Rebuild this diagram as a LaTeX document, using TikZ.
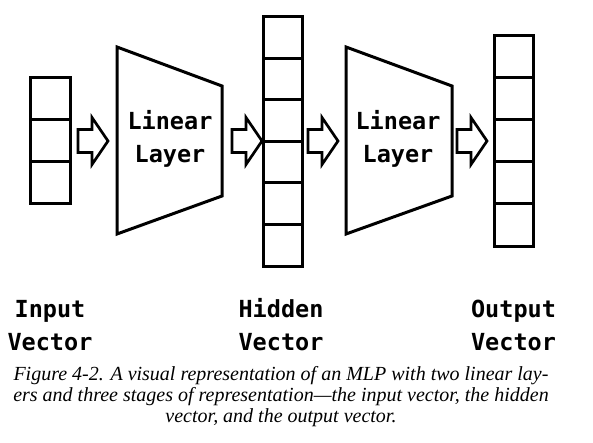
\documentclass[tikz,border=0pt]{standalone}
\usepackage{fontspec}
\setmainfont{Liberation Serif}
\newfontfamily\codefont{DejaVu Sans Mono}
\tikzset{
  shapeline/.style={line width=3pt, draw=black, line join=miter},
  vecbox/.style={shapeline, rectangle, inner sep=0pt, minimum width=40pt},
  layertext/.style={font=\codefont\bfseries\fontsize{23.5}{28}\selectfont, inner sep=0pt, anchor=base},
  lbltext/.style={font=\codefont\bfseries\fontsize{23.5}{28}\selectfont, inner sep=0pt, anchor=base},
  captext/.style={font=\itshape\fontsize{20}{22}\selectfont, inner sep=0pt, anchor=base},
  blockarr/.pic={\draw[shapeline, line width=2.7pt] (0,-11.5) -- (14,-11.5) -- (14,-23.5) -- (30,0) -- (14,23.5) -- (14,11.5) -- (0,11.5) -- cycle;}
}
\begin{document}
\begin{tikzpicture}[x=1pt,y=-1pt]
\useasboundingbox (0,0) rectangle (593,443);
\fill[white] (0,0) rectangle (593,443);
% vectors
\node[vecbox, minimum height=126pt] (inputvec) at (50,141) {};
\foreach \yy in {120,162} \draw[shapeline] (30,\yy) -- (70,\yy);
\node[vecbox, minimum height=249pt, minimum width=39pt] (hiddenvec) at (282.5,141.5) {};
\foreach \yy in {58.5,100,141.5,183,224.5} \draw[shapeline] (263,\yy) -- (302,\yy);
\node[vecbox, minimum height=210pt, minimum width=39pt] (outputvec) at (513.5,141) {};
\foreach \yy in {78,120,162,204} \draw[shapeline] (494,\yy) -- (533,\yy);
% linear layers
\draw[shapeline] (117,47) -- (222,86) -- (222,196) -- (117,234) -- cycle;
\node[layertext] (lin1a) at (170,129.5) {Linear};
\node[layertext] (lin1b) at (170,163) {Layer};
\draw[shapeline] (346,47) -- (452,86) -- (452,196) -- (346,234) -- cycle;
\node[layertext] (lin2a) at (398,129.5) {Linear};
\node[layertext] (lin2b) at (398,163) {Layer};
% block arrows
\pic at (78,141) {blockarr};
\pic at (232,141) {blockarr};
\pic at (308,141) {blockarr};
\pic at (457,141) {blockarr};
% labels
\node[lbltext] (inlbl1) at (50,317) {Input};
\node[lbltext] (inlbl2) at (50,350) {Vector};
\node[lbltext] (hidlbl1) at (281,317) {Hidden};
\node[lbltext] (hidlbl2) at (281,350) {Vector};
\node[lbltext] (outlbl1) at (513.5,317) {Output};
\node[lbltext] (outlbl2) at (513.5,350) {Vector};
% caption
\node[captext] (cap1) at (281,380) {Figure 4-2. A visual representation of an MLP with two linear lay-};
\node[captext] (cap2) at (281,401) {ers and three stages of representation—the input vector, the hidden};
\node[captext] (cap3) at (281,422) {vector, and the output vector.};
\end{tikzpicture}
\end{document}
